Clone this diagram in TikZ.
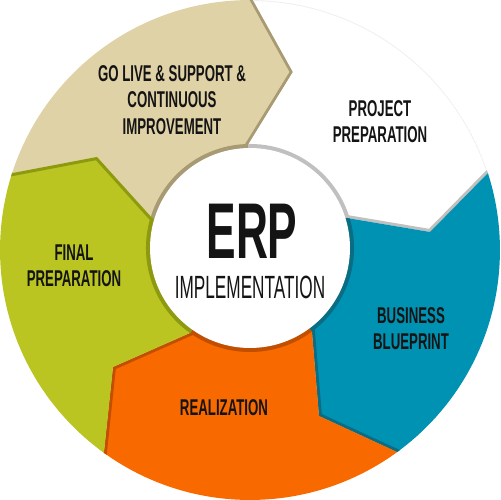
\documentclass[tikz,border=0pt]{standalone}
\usepackage{fontspec}
\setmainfont[FakeStretch=0.58]{Liberation Sans}
\newfontfamily\erpfont[FakeStretch=0.56]{Liberation Sans}
\newfontfamily\implfont[FakeStretch=0.535]{Liberation Sans}
\usetikzlibrary{calc}
\definecolor{golivecol}{HTML}{E0D2A7}
\definecolor{golivedark}{HTML}{A89B74}
\definecolor{finalcol}{HTML}{BAC522}
\definecolor{finaldark}{HTML}{8D9A10}
\definecolor{realcol}{HTML}{F86A00}
\definecolor{realdark}{HTML}{C24F00}
\definecolor{bluecol}{HTML}{0092B2}
\definecolor{bluedark}{HTML}{0B6D83}
\definecolor{projdark}{HTML}{C0C0C0}
\tikzstyle{phase} = [align=center, text=black!92, font=\bfseries\fontsize{13}{14.9}\selectfont]
\tikzstyle{frontline} = [line width=3.4pt, line join=miter]
\tikzstyle{hubring} = [line width=4.6pt]

\begin{document}
\begin{tikzpicture}[x=0.02cm, y=0.02cm]
  \useasboundingbox (0,0) rectangle (500,500);
  \coordinate (c) at (250,250);
  \coordinate (hubc) at (250,252);
  % boundaries between phases: inner point, tip, outer point
  \coordinate (a1) at (248,355); \coordinate (t1) at (293,428); \coordinate (b1) at (253,500);
  \coordinate (a2) at (347,282); \coordinate (t2) at (430,268); \coordinate (b2) at (488,327);
  \coordinate (a3) at (312,168); \coordinate (t3) at (319,84);  \coordinate (b3) at (397,48);
  \coordinate (a4) at (190,167); \coordinate (t4) at (113,133); \coordinate (b4) at (104,48);
  \coordinate (a5) at (152,282); \coordinate (t5) at (97,343);  \coordinate (b5) at (13,327);
  \coordinate (f1) at ($(c)!2!(b1)$);
  \coordinate (f2) at ($(c)!2!(b2)$);
  \coordinate (f3) at ($(c)!2!(b3)$);
  \coordinate (f4) at ($(c)!2!(b4)$);
  \coordinate (f5) at ($(c)!2!(b5)$);

  % go live
  \begin{scope}
    \clip (c) circle (5cm);
    \clip (c) -- (a5) -- (t5) -- (b5) -- (f5) -- (f1) -- (b1) -- (t1) -- (a1) -- cycle;
    \fill [golivecol] (0,0) rectangle (500,500);
    \draw [frontline, golivedark] ($(t1)!1.1!(a1)$) -- (t1) -- ($(t1)!1.1!(b1)$);
    \draw [hubring, golivedark] (hubc) circle (2cm);
  \end{scope}
  % project preparation
  \begin{scope}
    \clip (c) circle (5cm);
    \clip (c) -- (a1) -- (t1) -- (b1) -- (f1) -- (f2) -- (b2) -- (t2) -- (a2) -- cycle;
    \fill [white] (0,0) rectangle (500,500);
    \draw [gray!12, line width=0.5pt] (c) circle (4.99cm);
    \draw [frontline, projdark] ($(t2)!1.1!(a2)$) -- (t2) -- ($(t2)!1.1!(b2)$);
    \draw [hubring, projdark] (hubc) circle (2cm);
  \end{scope}
  % business blueprint
  \begin{scope}
    \clip (c) circle (5cm);
    \clip (c) -- (a2) -- (t2) -- (b2) -- (f2) -- (f3) -- (b3) -- (t3) -- (a3) -- cycle;
    \fill [bluecol] (0,0) rectangle (500,500);
    \draw [frontline, bluedark] ($(t3)!1.1!(a3)$) -- (t3) -- ($(t3)!1.1!(b3)$);
    \draw [hubring, bluedark] (hubc) circle (2cm);
  \end{scope}
  % realization
  \begin{scope}
    \clip (c) circle (5cm);
    \clip (c) -- (a3) -- (t3) -- (b3) -- (f3) -- (f4) -- (b4) -- (t4) -- (a4) -- cycle;
    \fill [realcol] (0,0) rectangle (500,500);
    \draw [frontline, realdark] ($(t4)!1.1!(a4)$) -- (t4) -- ($(t4)!1.1!(b4)$);
    \draw [hubring, realdark] (hubc) circle (2cm);
  \end{scope}
  % final preparation
  \begin{scope}
    \clip (c) circle (5cm);
    \clip (c) -- (a4) -- (t4) -- (b4) -- (f4) -- (f5) -- (b5) -- (t5) -- (a5) -- cycle;
    \fill [finalcol] (0,0) rectangle (500,500);
    \draw [frontline, finaldark] ($(t5)!1.1!(a5)$) -- (t5) -- ($(t5)!1.1!(b5)$);
    \draw [hubring, finaldark] (hubc) circle (2cm);
  \end{scope}

  \node (hub) [circle, fill=white, minimum size=4cm, inner sep=0pt] at (hubc) {};
  \node (erp) [text=black!92, font=\erpfont\bfseries\fontsize{45}{45}\selectfont] at (252,269) {ERP};
  \node (impl) [text=black!92, font=\implfont\fontsize{18.3}{18.3}\selectfont] at (250,213) {IMPLEMENTATION};

  \node (golive) [phase] at (172,400) {GO LIVE \& SUPPORT \&\\CONTINUOUS\\IMPROVEMENT};
  \node (project) [phase] at (380,378) {PROJECT\\PREPARATION};
  \node (blueprint) [phase] at (411,171) {BUSINESS\\BLUEPRINT};
  \node (realization) [phase] at (224,92) {REALIZATION};
  \node (finalprep) [phase] at (74,234) {FINAL\\PREPARATION};
\end{tikzpicture}
\end{document}
